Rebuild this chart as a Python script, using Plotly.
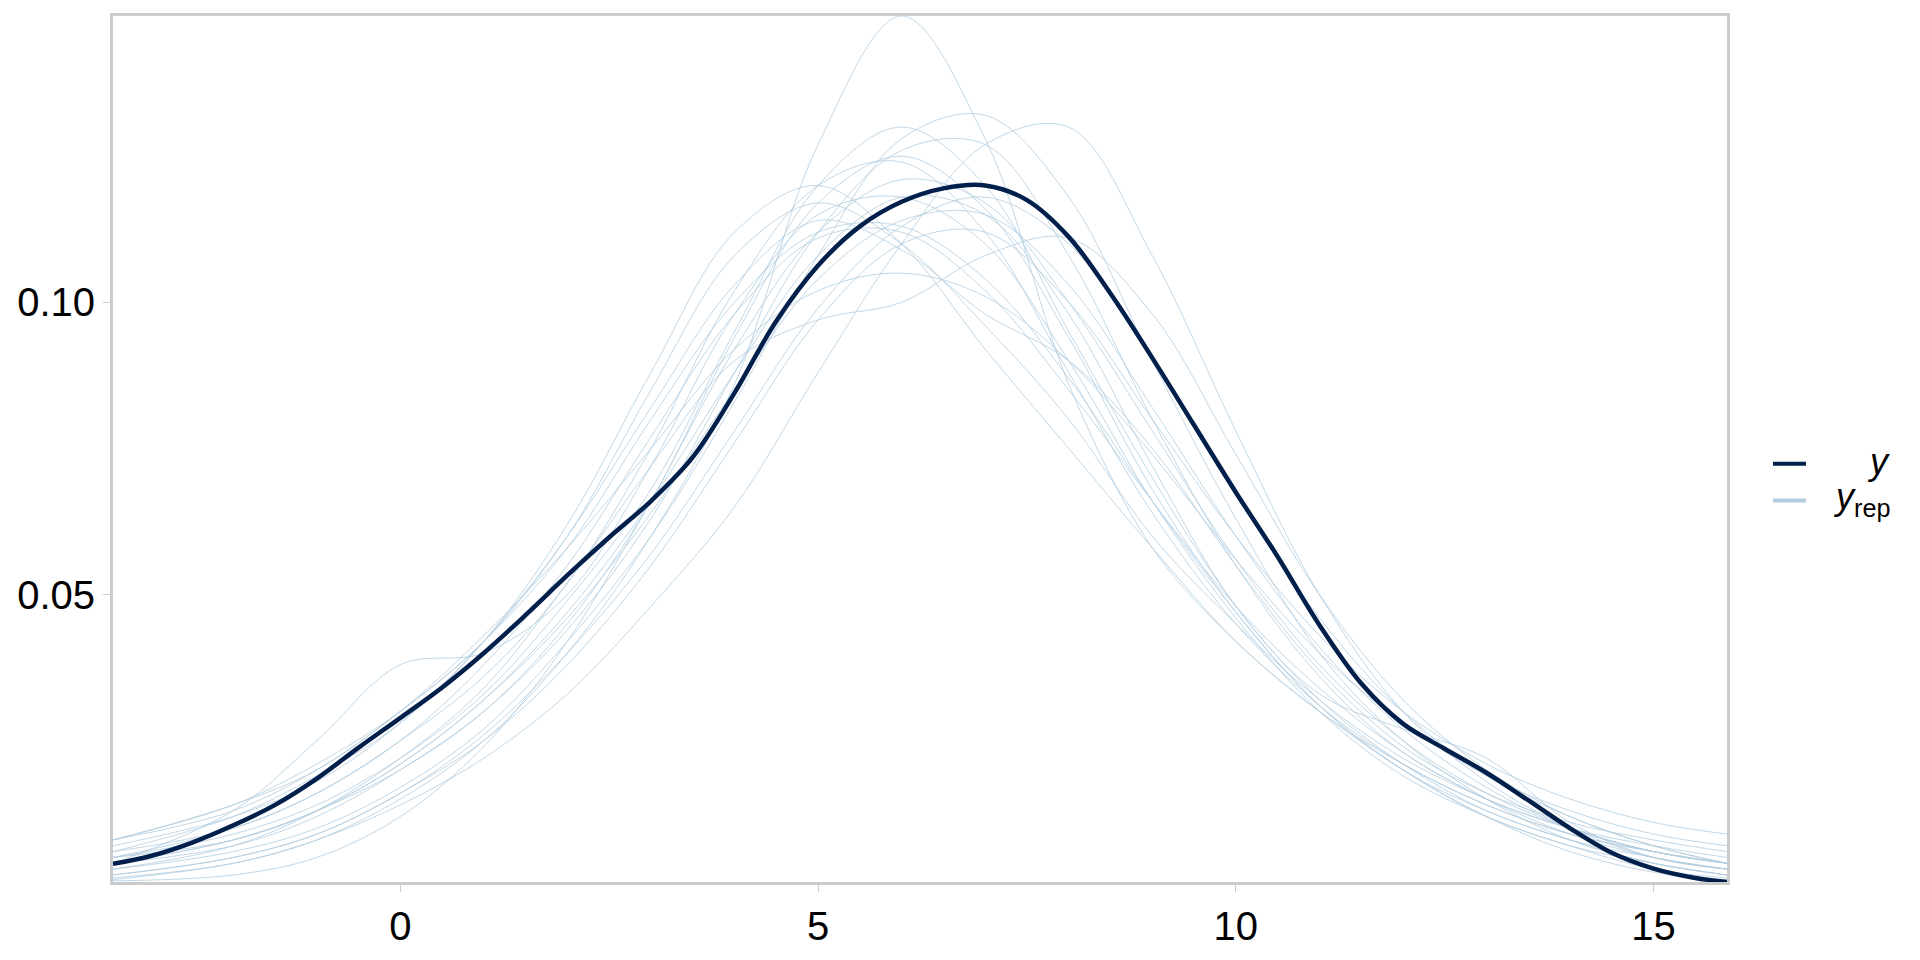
import plotly.graph_objects as go

# ---- data ----
x_y = [-3.44, -3.0, -2.5, -2.0, -1.5, -1.0, -0.5, 0.0, 0.5, 1.0, 1.5, 2.0, 2.5, 3.0,
       3.5, 4.0, 4.5, 5.0, 5.5, 6.0, 6.5, 7.0, 7.5, 8.0, 8.5, 9.0, 9.5, 10.0, 10.5,
       11.0, 11.5, 12.0, 12.5, 13.0, 13.5, 14.0, 14.5, 15.0, 15.5, 15.88]
dens_y = [0.0039, 0.0052, 0.0075, 0.0105, 0.0140, 0.0185, 0.0238, 0.0289, 0.0341, 0.0400,
          0.0465, 0.0533, 0.0598, 0.0660, 0.0735, 0.0845, 0.0968, 0.1063, 0.1130, 0.1172,
          0.1195, 0.1200, 0.1175, 0.1112, 0.1015, 0.0905, 0.0790, 0.0675, 0.0565,
          0.0448, 0.0348, 0.0279, 0.0236, 0.0195, 0.0148, 0.0100, 0.0058, 0.0031, 0.0015, 0.0008]

x_rep = [-3.44, -2, -1, 0, 1, 2, 3, 4, 5, 6, 7, 8, 9, 10, 11, 12, 13, 14, 15, 15.88]
rep01 = [0.0015, 0.004, 0.008, 0.015, 0.025, 0.040, 0.060, 0.086, 0.127, 0.149, 0.128, 0.086, 0.058, 0.042, 0.030, 0.020, 0.012, 0.006, 0.0025, 0.0012]
rep02 = [0.003, 0.006, 0.010, 0.017, 0.027, 0.042, 0.060, 0.083, 0.108, 0.128, 0.132, 0.118, 0.090, 0.063, 0.040, 0.025, 0.015, 0.008, 0.004, 0.002]
rep03 = [0.0012, 0.004, 0.008, 0.014, 0.022, 0.033, 0.048, 0.065, 0.088, 0.110, 0.127, 0.130, 0.108, 0.078, 0.050, 0.030, 0.018, 0.010, 0.005, 0.003]
rep04 = [0.005, 0.009, 0.014, 0.022, 0.033, 0.049, 0.068, 0.095, 0.120, 0.130, 0.120, 0.095, 0.070, 0.048, 0.032, 0.021, 0.013, 0.008, 0.004, 0.002]
rep05 = [0.004, 0.007, 0.012, 0.020, 0.030, 0.044, 0.063, 0.088, 0.112, 0.126, 0.127, 0.108, 0.080, 0.055, 0.036, 0.023, 0.015, 0.009, 0.005, 0.003]
rep06 = [0.006, 0.010, 0.016, 0.025, 0.036, 0.052, 0.075, 0.102, 0.120, 0.124, 0.112, 0.088, 0.064, 0.045, 0.031, 0.021, 0.014, 0.009, 0.006, 0.004]
rep07 = [0.006, 0.012, 0.019, 0.028, 0.042, 0.062, 0.088, 0.112, 0.120, 0.110, 0.092, 0.075, 0.058, 0.042, 0.030, 0.021, 0.014, 0.009, 0.006, 0.004]
rep08 = [0.008, 0.014, 0.020, 0.030, 0.042, 0.060, 0.085, 0.108, 0.117, 0.110, 0.096, 0.080, 0.060, 0.045, 0.032, 0.022, 0.015, 0.010, 0.007, 0.005]
rep09 = [0.002, 0.005, 0.009, 0.016, 0.026, 0.040, 0.057, 0.078, 0.099, 0.113, 0.118, 0.110, 0.090, 0.067, 0.046, 0.030, 0.019, 0.012, 0.007, 0.004]
rep10 = [0.005, 0.008, 0.013, 0.021, 0.032, 0.046, 0.064, 0.085, 0.104, 0.114, 0.115, 0.103, 0.082, 0.060, 0.041, 0.027, 0.017, 0.010, 0.006, 0.004]
rep11 = [0.007, 0.012, 0.018, 0.028, 0.042, 0.060, 0.082, 0.103, 0.114, 0.109, 0.098, 0.090, 0.075, 0.055, 0.037, 0.024, 0.016, 0.011, 0.008, 0.006]
rep12 = [0.005, 0.010, 0.016, 0.025, 0.038, 0.055, 0.077, 0.098, 0.111, 0.112, 0.102, 0.085, 0.066, 0.048, 0.034, 0.023, 0.015, 0.010, 0.006, 0.004]
rep13 = [0.008, 0.013, 0.020, 0.030, 0.043, 0.058, 0.075, 0.092, 0.102, 0.105, 0.101, 0.090, 0.074, 0.056, 0.040, 0.028, 0.019, 0.013, 0.009, 0.007]
rep14 = [0.003, 0.007, 0.013, 0.022, 0.034, 0.052, 0.072, 0.090, 0.097, 0.100, 0.108, 0.111, 0.098, 0.074, 0.050, 0.032, 0.020, 0.012, 0.007, 0.004]
rep15 = [0.004, 0.013, 0.025, 0.038, 0.040, 0.050, 0.072, 0.098, 0.115, 0.118, 0.110, 0.090, 0.066, 0.046, 0.030, 0.019, 0.012, 0.007, 0.004, 0.002]
rep16 = [0.004, 0.008, 0.013, 0.021, 0.032, 0.047, 0.066, 0.088, 0.108, 0.118, 0.115, 0.098, 0.072, 0.048, 0.033, 0.027, 0.022, 0.011, 0.005, 0.003]
rep17 = [0.002, 0.005, 0.009, 0.016, 0.025, 0.038, 0.055, 0.076, 0.097, 0.110, 0.112, 0.100, 0.080, 0.060, 0.043, 0.030, 0.021, 0.015, 0.011, 0.009]
rep18 = [0.008, 0.014, 0.021, 0.030, 0.042, 0.058, 0.080, 0.100, 0.112, 0.113, 0.104, 0.087, 0.066, 0.047, 0.031, 0.020, 0.012, 0.007, 0.003, 0.0015]
rep19 = [0.001, 0.002, 0.005, 0.012, 0.024, 0.042, 0.066, 0.092, 0.112, 0.121, 0.117, 0.100, 0.078, 0.056, 0.038, 0.025, 0.016, 0.010, 0.006, 0.004]
rep20 = [0.004, 0.008, 0.013, 0.020, 0.030, 0.045, 0.066, 0.094, 0.117, 0.125, 0.116, 0.094, 0.068, 0.047, 0.031, 0.020, 0.013, 0.008, 0.005, 0.003]
reps = [rep01, rep02, rep03, rep04, rep05, rep06, rep07, rep08, rep09, rep10,
        rep11, rep12, rep13, rep14, rep15, rep16, rep17, rep18, rep19, rep20]

x_ticks = [0, 5, 10, 15]
y_ticks = [0.05, 0.10]
y_tick_labels = ["0.05", "0.10"]
legend_labels = ["<i>y</i>", "<i>y</i><sub>rep</sub>"]

# ---- styling ----
DARK = "#011f4b"
LIGHT = "#b3cde0"
BORDER = "#cbcbcb"
FONT = "Liberation Sans, Arial, sans-serif"
W, H = 1920, 960
L, R, T, B = 113, 1727, 16, 890

fig = go.Figure()
for r in reps:
    fig.add_trace(go.Scatter(x=x_rep, y=r, mode="lines", line_shape="spline",
                             line=dict(color="rgba(179,205,224,0.8)", width=1),
                             showlegend=False, hoverinfo="skip"))
fig.add_trace(go.Scatter(x=x_y, y=dens_y, mode="lines", line_shape="spline",
                         line=dict(color=DARK, width=4.5), showlegend=False))

all_vals = dens_y + [v for r in reps for v in r]
ymin, ymax = min(all_vals), max(all_vals)


def px2paper_x(px):
    return (px - L) / (R - L)


def px2paper_y(py):
    return (B - py) / (B - T)


shapes = [
    dict(type="line", xref="paper", yref="paper",
         x0=px2paper_x(1773), x1=px2paper_x(1806), y0=px2paper_y(468), y1=px2paper_y(468),
         line=dict(color=DARK, width=4)),
    dict(type="line", xref="paper", yref="paper",
         x0=px2paper_x(1773), x1=px2paper_x(1806), y0=px2paper_y(505), y1=px2paper_y(505),
         line=dict(color=LIGHT, width=4)),
]
annotations = [
    dict(text=legend_labels[0], xref="paper", yref="paper", x=px2paper_x(1892),
         y=px2paper_y(466), xanchor="right", yanchor="middle", showarrow=False,
         font=dict(family=FONT, size=36, color="black")),
    dict(text=legend_labels[1], xref="paper", yref="paper", x=px2paper_x(1892),
         y=px2paper_y(503), xanchor="right", yanchor="middle", showarrow=False,
         font=dict(family=FONT, size=36, color="black")),
]

fig.update_layout(
    width=W, height=H,
    margin=dict(l=L, r=W - R, t=T, b=H - B, pad=0),
    plot_bgcolor="white", paper_bgcolor="white",
    font=dict(family=FONT, size=40, color="black"),
    shapes=shapes, annotations=annotations, showlegend=False,
    xaxis=dict(range=[x_y[0], x_y[-1]], tickvals=x_ticks, ticks="outside", ticklen=7,
               tickwidth=1, tickcolor=BORDER, showgrid=False, zeroline=False,
               showline=True, mirror=True, linecolor=BORDER, linewidth=3,
               tickfont=dict(size=40, color="black")),
    yaxis=dict(range=[ymin, ymax], tickvals=y_ticks, ticktext=y_tick_labels,
               ticks="outside", ticklen=7, tickwidth=1, tickcolor=BORDER,
               showgrid=False, zeroline=False, showline=True, mirror=True,
               linecolor=BORDER, linewidth=3, tickfont=dict(size=40, color="black")),
)

fig.write_html("out.html", config={"displayModeBar": False},
               post_script="document.body.style.margin='0';")
